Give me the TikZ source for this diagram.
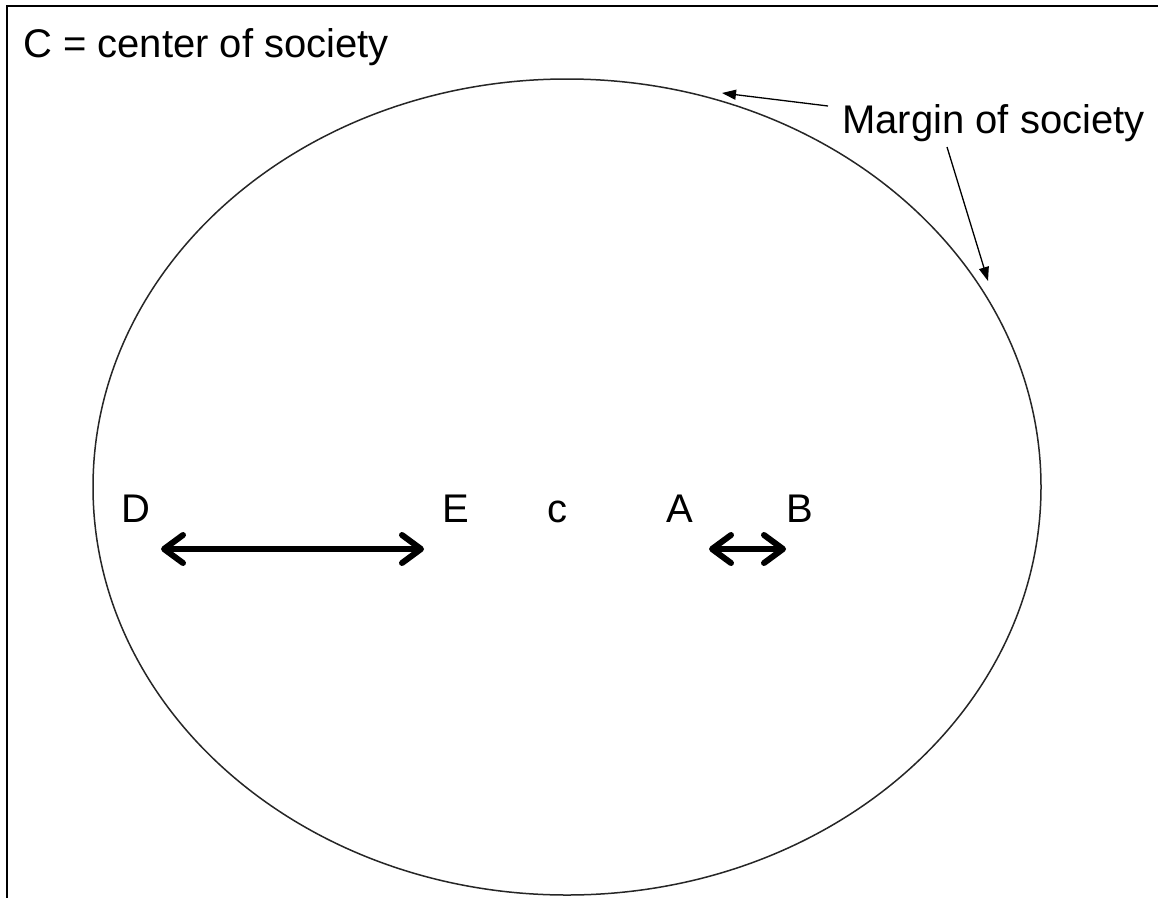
\documentclass[tikz,border=0pt]{standalone}
\usepackage{fontspec}
\setmainfont{Liberation Sans}
\usetikzlibrary{arrows.meta}
\begin{document}
\begin{tikzpicture}[x=1pt,y=-1pt,
  lbl/.style={inner sep=0pt,anchor=base west,font=\fontsize{40}{47}\selectfont},
  frameline/.style={line width=2.6pt,black},
  margin/.style={line width=1.5pt,black!85},
  pointer/.style={line width=1.3pt,-{Triangle[length=14pt,width=10pt]}},
  span/.style={line width=6pt,{Straight Barb[length=19pt,width=28pt,round]}-{Straight Barb[length=19pt,width=28pt,round]}}]
\useasboundingbox (0,0) rectangle (1158,897);
\fill[white] (0,0) rectangle (1158,897);
% frame (top and left edges)
\draw[frameline] (1160,6) -- (7,6) -- (7,899);
% society ellipse
\draw[margin] (567,487) ellipse [x radius=474pt, y radius=408pt];
% labels
\node[lbl] (title) at (23,57) {C = center of society};
\node[lbl] (marg) at (842,133) {Margin of society};
\node[lbl] (D) at (121,522) {D};
\node[lbl] (E) at (442,522) {E};
\node[lbl] (c) at (547,522) {c};
\node[lbl] (A) at (666,522) {A};
\node[lbl] (B) at (786,522) {B};
% pointers to the margin
\coordinate (m1s) at (828,106);
\coordinate (m1e) at (722,93);
\coordinate (m2s) at (947,147);
\coordinate (m2e) at (988,281);
\draw[pointer] (m1s) -- (m1e);
\draw[pointer] (m2s) -- (m2e);
% double arrows
\coordinate (d1) at (161,549);
\coordinate (e1) at (424,549);
\coordinate (a1) at (709,549);
\coordinate (b1) at (786,549);
\draw[span] (d1) -- (e1);
\draw[span] (a1) -- (b1);
\end{tikzpicture}
\end{document}
